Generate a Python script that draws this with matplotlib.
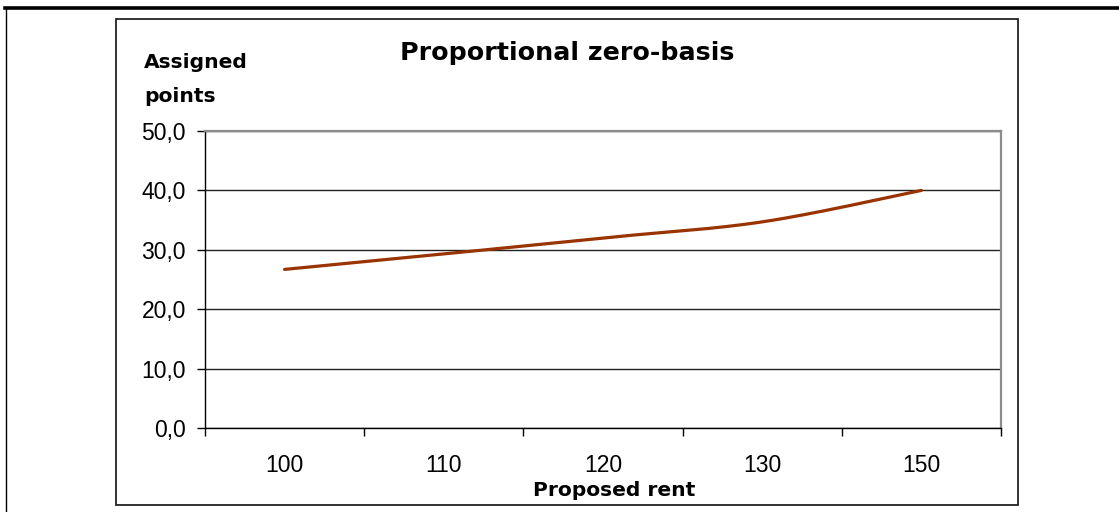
import numpy as np
import matplotlib
matplotlib.use("Agg")
import matplotlib.pyplot as plt
from matplotlib.lines import Line2D
from matplotlib.patches import Rectangle
from matplotlib.ticker import FixedLocator, NullFormatter, FuncFormatter

# Data
rent_labels = ["100", "110", "120", "130", "150"]
points = [26.7, 29.3, 32.0, 34.7, 40.0]
y_ticks = [0, 10, 20, 30, 40, 50]

W, H = 1119, 512
LINE_COLOR = "#993300"
TICK_FONT = "Liberation Sans"
BOLD_FONT = "DejaVu Sans"


def smooth_curve(xs, ys, samples=60):
    """Cubic Bezier through every point, Catmull-Rom style control points."""
    p = np.column_stack([xs, ys]).astype(float)
    n = len(p)
    t = np.linspace(0, 1, samples)[1:, None]
    parts = [p[:1]]
    for i in range(n - 1):
        prev = p[max(i - 1, 0)]
        nxt = p[min(i + 2, n - 1)]
        c1 = p[i] + (p[i + 1] - prev) / 6.0
        c2 = p[i + 1] - (nxt - p[i]) / 6.0
        seg = ((1 - t) ** 3) * p[i] + 3 * ((1 - t) ** 2) * t * c1 \
            + 3 * (1 - t) * t ** 2 * c2 + t ** 3 * p[i + 1]
        parts.append(seg)
    pts = np.vstack(parts)
    return pts[:, 0], pts[:, 1]


def fx(px):
    return px / W


def fy(py):
    return 1 - py / H


fig = plt.figure(figsize=(W / 100, H / 100), dpi=100)
fig.patch.set_facecolor("white")

# Page decorations: heavy rule on top, thin rule on the left, chart frame
fig.add_artist(Line2D([fx(5), 1.0], [fy(8), fy(8)], transform=fig.transFigure,
                      color="black", lw=2.6))
fig.add_artist(Line2D([fx(5.5), fx(5.5)], [0.0, fy(8)], transform=fig.transFigure,
                      color="black", lw=1.0))
fig.add_artist(Rectangle((fx(116), fy(505)), fx(1018) - fx(116), fy(19) - fy(505),
                         transform=fig.transFigure, fill=False,
                         edgecolor="#222222", lw=1.3))

ax = fig.add_axes([fx(205), fy(428), fx(1001) - fx(205), fy(131) - fy(428)])
ax.set_facecolor("white")

x = np.arange(len(rent_labels))
cx, cy = smooth_curve(x, points)
ax.plot(cx, cy, color=LINE_COLOR, lw=2.3, solid_capstyle="round", zorder=3)

ax.set_xlim(-0.5, len(rent_labels) - 0.5)
ax.set_ylim(y_ticks[0], y_ticks[-1])

# Category axis: tick marks between categories, labels centred on them
ax.xaxis.set_major_locator(FixedLocator(np.arange(-0.5, len(rent_labels) + 0.5)))
ax.xaxis.set_major_formatter(NullFormatter())
ax.set_xticks(x, labels=rent_labels, minor=True)
ax.tick_params(axis="x", which="major", direction="out", length=5.8, width=1.0,
               color="black")
ax.tick_params(axis="x", which="minor", length=0, pad=18.5, labelsize=16.5)

ax.set_yticks(y_ticks)
ax.yaxis.set_major_formatter(FuncFormatter(lambda v, _: f"{v:.1f}".replace(".", ",")))
ax.tick_params(axis="y", direction="out", length=5.8, width=1.0, color="black",
               pad=7.9, labelsize=16.5)

for lab in ax.get_xticklabels(minor=True) + ax.get_yticklabels():
    lab.set_fontfamily(TICK_FONT)
    lab.set_color("black")

ax.yaxis.grid(True, color="#222222", lw=1.0, zorder=1)
ax.set_axisbelow(True)

for side in ("left", "bottom"):
    ax.spines[side].set_color("black")
    ax.spines[side].set_linewidth(1.0)
for side in ("top", "right"):
    ax.spines[side].set_color("#8c8c8c")
    ax.spines[side].set_linewidth(1.6)

# Titles
fig.text(fx(567), fy(60), "Proportional zero-basis", ha="center", va="baseline",
         fontsize=18.3, fontweight="bold", family=BOLD_FONT)
fig.text(fx(144), fy(68), "Assigned", ha="left", va="baseline",
         fontsize=14.6, fontweight="bold", family=BOLD_FONT)
fig.text(fx(144), fy(102), "points", ha="left", va="baseline",
         fontsize=14.6, fontweight="bold", family=BOLD_FONT)
fig.text(fx(614), fy(496), "Proposed rent", ha="center", va="baseline",
         fontsize=14.6, fontweight="bold", family=BOLD_FONT)

fig.savefig("out.png", dpi=100, facecolor="white")
